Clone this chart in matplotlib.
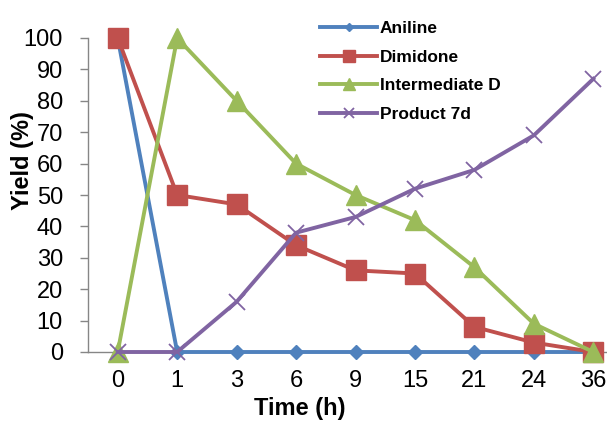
import matplotlib
matplotlib.use("Agg")
import matplotlib.pyplot as plt

plt.rcParams['font.family'] = ['Liberation Sans', 'DejaVu Sans']

times = ["0", "1", "3", "6", "9", "15", "21", "24", "36"]
aniline = [100, 0, 0, 0, 0, 0, 0, 0, 0]
dimidone = [100, 50, 47, 34, 26, 25, 8, 3, 0]
intermediate_d = [0, 100, 80, 60, 50, 42, 27, 9, 0]
product_7d = [0, 0, 16, 38, 43, 52, 58, 69, 87]

W, H = 607, 421
L, B, T = 88, 352, 38  # plot-area edges in pixels
fig = plt.figure(figsize=(W / 100, H / 100), dpi=100)
ax = fig.add_axes([L / W, (H - B) / H, (W - L) / W, (B - T) / H])
ph, pw = B - T, W - L

x = list(range(len(times)))
lw = 2.8
ax.plot(x, aniline, color="#4F81BD", lw=lw, marker="D", ms=7.5, label="Aniline", clip_on=False, zorder=3)
ax.plot(x, dimidone, color="#C0504D", lw=lw, marker="s", ms=14, label="Dimidone", clip_on=False, zorder=4)
ax.plot(x, intermediate_d, color="#9BBB59", lw=lw, marker="^", ms=14, label="Intermediate D", clip_on=False, zorder=5)
ax.plot(x, product_7d, color="#8064A2", lw=lw, marker="x", ms=12, mew=1.3, label="Product 7d", clip_on=False, zorder=6)

ax.set_xlim(-0.5, 8.23)
ax.set_ylim(0, 100)
ax.set_yticks(range(0, 101, 10))
ax.set_xticks(x)
ax.set_xticklabels(times)
ax.tick_params(axis="y", length=6, width=1, color="#868686", labelsize=17, pad=12)
ax.tick_params(axis="x", length=0, labelsize=17, pad=13)

for s in ["top", "right"]:
    ax.spines[s].set_visible(False)
for s in ["left", "bottom"]:
    ax.spines[s].set_color("#868686")
    ax.spines[s].set_linewidth(1)

ax.set_ylabel("Yield (%)", fontsize=17, fontweight="bold", va="center")
ax.yaxis.set_label_coords((22 - L) / pw, (B - 161) / ph)
ax.set_xlabel("Time (h)", fontsize=17, fontweight="bold")
ax.xaxis.set_label_coords((300 - L) / pw, -(397 - B) / ph)

leg = ax.legend(loc="upper left", bbox_to_anchor=((320 - L) / pw, (B - 21) / ph),
                frameon=False, borderpad=0, borderaxespad=0,
                prop={"weight": "bold", "size": 12.5}, handlelength=3.3,
                handletextpad=0.15, labelspacing=0.77, markerscale=0.6)

fig.savefig("out.png", dpi=100)
